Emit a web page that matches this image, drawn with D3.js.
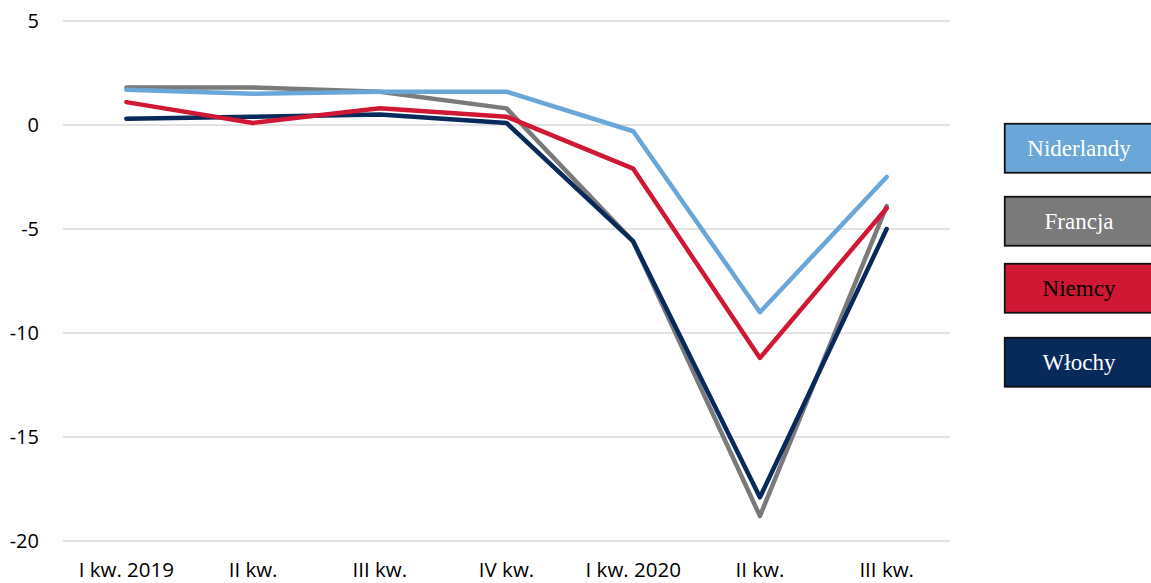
<!DOCTYPE html>
<html>
<head>
<meta charset="utf-8">
<script src="https://cdn.jsdelivr.net/npm/d3@7"></script>
<style>
  html, body { margin: 0; padding: 0; background: #fff; }
  svg { display: block; }
</style>
</head>
<body>
<svg id="chart" width="1151" height="583"></svg>
<script>
// Quarterly GDP change (%), 2019–2020
const quarters = ["I kw. 2019", "II kw.", "III kw.", "IV kw.", "I kw. 2020", "II kw.", "III kw."];
const yTicks = [5, 0, -5, -10, -15, -20];

const niderlandy = [1.7, 1.5, 1.6, 1.6, -0.3, -9.0, -2.5];
const francja    = [1.8, 1.8, 1.6, 0.8, -5.6, -18.8, -3.9];
const niemcy     = [1.1, 0.1, 0.8, 0.4, -2.1, -11.2, -4.0];
const wlochy     = [0.3, 0.4, 0.5, 0.1, -5.6, -17.9, -5.0];

const seriesNames  = ["Niderlandy", "Francja", "Niemcy", "Włochy"];
const seriesColors = ["#6aa7d8", "#7a7a7a", "#d01733", "#072a5b"];
const seriesText   = ["#ffffff", "#ffffff", "#000000", "#ffffff"];
const seriesValues = [niderlandy, francja, niemcy, wlochy];

const svg = d3.select("#chart");
const plot = { left: 63, right: 950, top: 21, bottom: 541 };
const axisFont = "'Open Sans', sans-serif";

const x = d3.scaleBand().domain(quarters.map((q, i) => i)).range([plot.left, plot.right]);
const y = d3.scaleLinear().domain([-20, 5]).range([plot.bottom, plot.top]);

// Horizontal gridlines
svg.append("g")
  .selectAll("line")
  .data(yTicks)
  .join("line")
  .attr("x1", plot.left).attr("x2", plot.right)
  .attr("y1", d => y(d)).attr("y2", d => y(d))
  .attr("stroke", "#d9d9d9").attr("stroke-width", 1.3);

// Y axis labels (plain hyphen for negatives)
const yAxis = d3.axisLeft(y).tickValues(yTicks).tickFormat(d => String(d)).tickSize(0).tickPadding(24);
svg.append("g")
  .attr("transform", `translate(${plot.left},0)`)
  .call(yAxis)
  .call(g => g.select(".domain").remove())
  .selectAll("text")
  .attr("font-family", axisFont)
  .attr("font-size", 20)
  .attr("fill", "#000");

// X axis labels
const xAxis = d3.axisBottom(x).tickFormat(i => quarters[i]).tickSize(0).tickPadding(21);
svg.append("g")
  .attr("transform", `translate(0,${plot.bottom})`)
  .call(xAxis)
  .call(g => g.select(".domain").remove())
  .selectAll("text")
  .attr("font-family", axisFont)
  .attr("font-size", 20.5)
  .attr("fill", "#000");

// Series lines (Niderlandy on top, Włochy above Francja)
const line = d3.line()
  .x((d, i) => x(i) + x.bandwidth() / 2)
  .y(d => y(d));

const drawOrder = [1, 3, 2, 0];
svg.append("g")
  .selectAll("path")
  .data(drawOrder)
  .join("path")
  .attr("d", k => line(seriesValues[k]))
  .attr("fill", "none")
  .attr("stroke", k => seriesColors[k])
  .attr("stroke-width", 4.5)
  .attr("stroke-linejoin", "round")
  .attr("stroke-linecap", "round");

// Legend boxes
const legendTops = [123, 196, 263, 337];
const legend = svg.append("g");
seriesNames.forEach((name, k) => {
  const g = legend.append("g").attr("transform", `translate(1004,${legendTops[k]})`);
  g.append("rect")
    .attr("x", 0.75).attr("y", 0.75)
    .attr("width", 150).attr("height", 49)
    .attr("fill", seriesColors[k])
    .attr("stroke", "#111").attr("stroke-width", 1.8);
  g.append("text")
    .attr("x", 75).attr("y", 33)
    .attr("text-anchor", "middle")
    .attr("font-family", "'Liberation Serif', 'Times New Roman', serif")
    .attr("font-size", 23)
    .attr("fill", seriesText[k])
    .text(name);
});
</script>
</body>
</html>
